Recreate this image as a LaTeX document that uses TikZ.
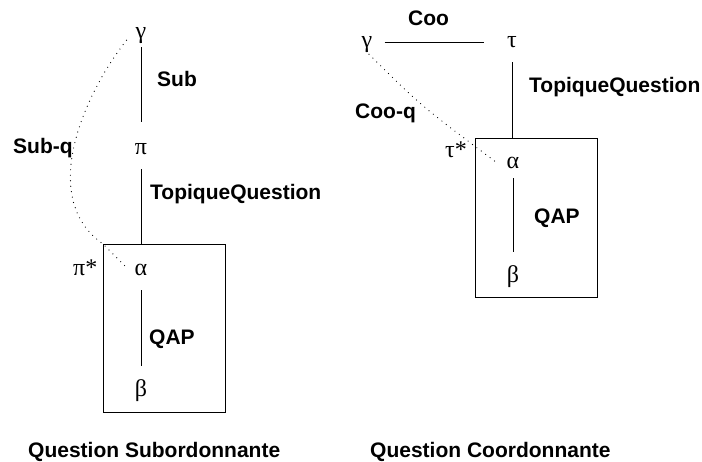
\documentclass[tikz,border=0pt]{standalone}
\usepackage{fontspec}
\setmainfont{Liberation Serif}
\setsansfont{Liberation Sans}
\usetikzlibrary{calc}
\tikzset{
  gnode/.style={inner sep=0pt, anchor=base, text height=14pt, text depth=5pt,
                font=\fontsize{24}{28}\selectfont},
  rlabel/.style={inner sep=0pt, anchor=base west,
                 font=\sffamily\bfseries\fontsize{21}{25}\selectfont},
  qbox/.style={draw, line width=0.9pt, inner sep=0pt},
  rline/.style={line width=0.9pt},
  qdots/.style={line width=1.2pt, dash pattern=on 0pt off 5.5pt, line cap=round},
}
\begin{document}
\begin{tikzpicture}[x=1pt, y=-1pt]
  \useasboundingbox (0,0) rectangle (702,461);
  % question subordonnante
  \node[gnode] (g1) at (141,38) {γ};
  \node[gnode] (p1) at (141,154) {π};
  \node[qbox, minimum width=122pt, minimum height=168pt] (sbox) at (164,328) {};
  \node[gnode] (a1) at (141,275) {α};
  \node[gnode] (b1) at (141,396) {β};
  \node[gnode, anchor=base west] (ps) at (73,275) {π*};
  \draw[rline, shorten <=4pt, shorten >=18pt] (g1.south) -- (p1.north);
  \draw[rline, shorten <=10pt] (p1.south) -- (p1.south |- sbox.north);
  \draw[rline, shorten <=10pt, shorten >=16pt] (a1.south) -- (b1.north);
  \draw[qdots] ($(g1.south west)+(-9,-3)$) .. controls (80,100) and (40,200) ..
    (sbox.north west) -- ($(a1.west)+(-9,-4)$);
  \node[rlabel] (sub) at (157,86) {Sub};
  \node[rlabel] (subq) at (13,153) {Sub-q};
  \node[rlabel] (tq1) at (150,199) {TopiqueQuestion};
  \node[rlabel] (qap1) at (149,344) {QAP};
  \node[rlabel] (qs) at (28,457) {Question Subordonnante};
  % question coordonnante
  \node[gnode] (g2) at (367,47) {γ};
  \node[gnode] (t2) at (512,47) {τ};
  \node[qbox, minimum width=122pt, minimum height=159pt] (cbox) at (536,217.5) {};
  \node[gnode] (a2) at (513,168) {α};
  \node[gnode] (b2) at (513,282) {β};
  \node[gnode, anchor=base west] (ts) at (445,157) {τ*};
  \draw[rline, shorten <=12pt, shorten >=23pt] (g2) -- (t2);
  \draw[rline, shorten <=10pt] (t2.south) -- (t2.south |- cbox.north);
  \draw[rline, shorten <=5pt, shorten >=16pt] (a2.south) -- (b2.north);
  \draw[qdots] ($(g2.south)+(2,2)$) .. controls (420,105) .. ($(a2.west)+(-10,-1)$);
  \node[rlabel] (coo) at (408,25) {Coo};
  \node[rlabel] (cooq) at (355,118) {Coo-q};
  \node[rlabel] (tq2) at (529,92) {TopiqueQuestion};
  \node[rlabel] (qap2) at (534,223) {QAP};
  \node[rlabel] (qc) at (370,457) {Question Coordonnante};
\end{tikzpicture}
\end{document}
